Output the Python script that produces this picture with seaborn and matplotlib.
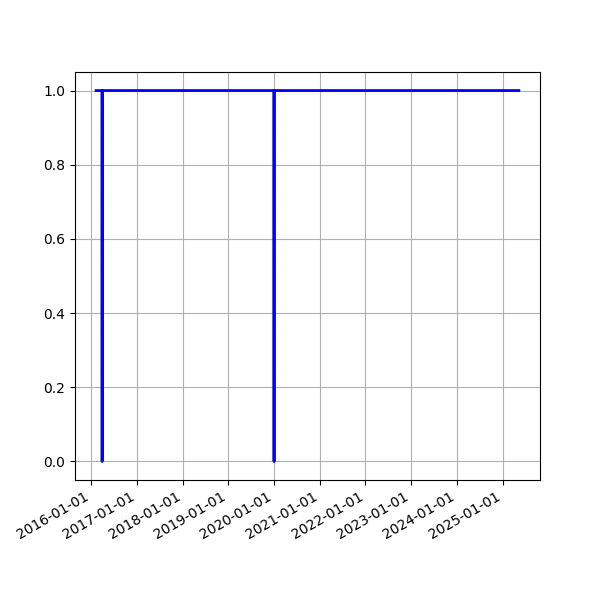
import pandas as pd
import matplotlib
matplotlib.use("Agg")
import matplotlib.pyplot as plt
import matplotlib.dates as mdates
import seaborn as sns

# puntos de la serie (1 = activo, 0 = caida)
dates = ["2016-02-11", "2016-03-29", "2016-03-30", "2016-03-31",
         "2020-01-01", "2020-01-02", "2020-01-03", "2025-05-10"]
values = [1, 1, 0, 1, 1, 0, 1, 1]

df = pd.DataFrame({"date": pd.to_datetime(dates), "value": values})

fig, ax = plt.subplots(figsize=(6, 6), dpi=100)
sns.lineplot(data=df, x="date", y="value", color="blue", linewidth=2, ax=ax)

ax.xaxis.set_major_locator(mdates.YearLocator())
ax.xaxis.set_major_formatter(mdates.DateFormatter("%Y-%m-%d"))
ax.set_yticks([0.0, 0.2, 0.4, 0.6, 0.8, 1.0])
ax.set_xlabel("")
ax.set_ylabel("")
ax.grid(True)
fig.autofmt_xdate()

plt.savefig("out.png")
